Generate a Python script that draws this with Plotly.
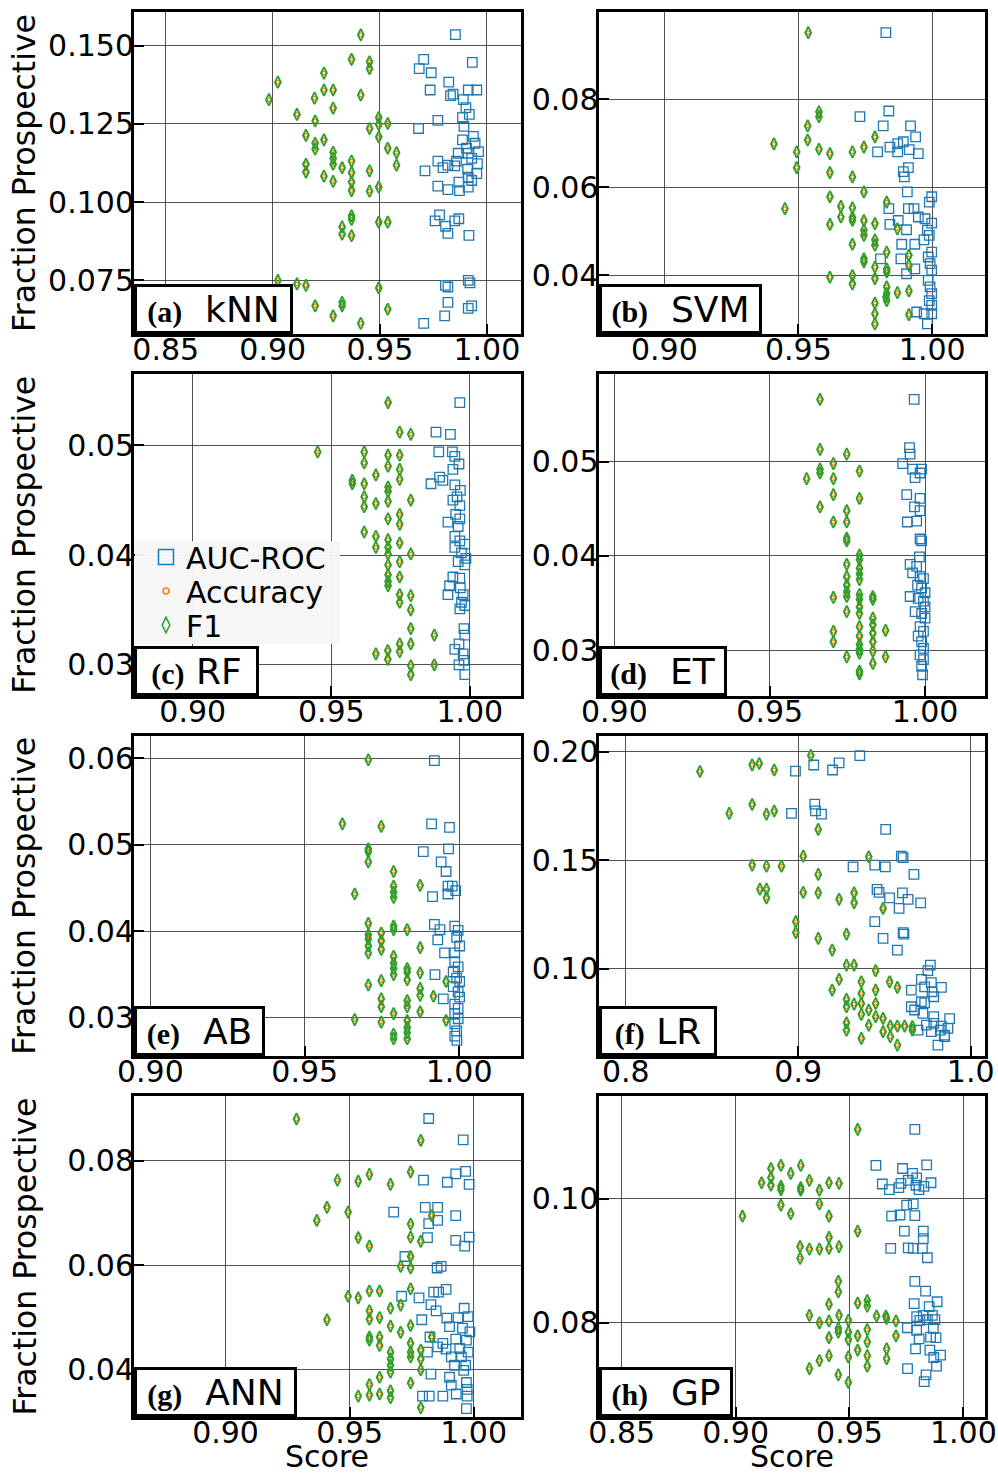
import plotly.graph_objects as go

# ---------------- data (score, fraction prospective) ----------------
# Accuracy markers sit exactly on the F1 markers in every panel, so the
# Accuracy series re-uses the F1 point lists.

KNN_AUC = [(0.9853,0.1535),(0.9932,0.1446),(0.9705,0.1456),(0.9684,0.1426),(0.9740,0.1413),(0.9822,0.1383),
           (0.9735,0.1358),(0.9830,0.1340),(0.9842,0.1345),(0.9913,0.1358),(0.9953,0.1358),(0.9890,0.1327),
           (0.9902,0.1302),(0.9918,0.1280),(0.9681,0.1235),(0.9771,0.1261),(0.9886,0.1270),(0.9893,0.1242),
           (0.9937,0.1210),(0.9945,0.1188),(0.9886,0.1199),(0.9905,0.1172),(0.9913,0.1156),(0.9961,0.1161),
           (0.9866,0.1156),(0.9929,0.1140),(0.9956,0.1123),(0.9858,0.1131),(0.9771,0.1131),(0.9818,0.1118),
           (0.9795,0.1110),(0.9850,0.1116),(0.9910,0.1105),(0.9953,0.1091),(0.9711,0.1100),(0.9913,0.1080),
           (0.9929,0.1069),(0.9869,0.1064),(0.9771,0.1051),(0.9818,0.1040),(0.9872,0.1037),(0.9913,0.1048),
           (0.9779,0.0959),(0.9758,0.0940),(0.9807,0.0923),(0.9818,0.0900),(0.9850,0.0940),(0.9869,0.0947),
           (0.9916,0.0894),(0.9806,0.0734),(0.9818,0.0729),(0.9913,0.0750),(0.9921,0.0742),(0.9818,0.0680),
           (0.9913,0.0661),(0.9929,0.0669),(0.9803,0.0637),(0.9705,0.0613)]
KNN_F1 = [(0.8982,0.1327),(0.9024,0.1383),(0.9113,0.1280),(0.9155,0.1213),(0.9195,0.1332),(0.9198,0.1259),
          (0.9239,0.1412),(0.9239,0.1358),(0.9282,0.1358),(0.9282,0.1300),(0.9198,0.1188),(0.9198,0.1170),
          (0.9239,0.1199),(0.9155,0.1121),(0.9155,0.1096),(0.9239,0.1083),(0.9282,0.1159),(0.9282,0.1140),
          (0.9282,0.1121),(0.9282,0.1066),(0.9324,0.1110),(0.9368,0.1456),(0.9368,0.1131),(0.9368,0.1094),
          (0.9368,0.1064),(0.9368,0.1037),(0.9411,0.1534),(0.9411,0.1342),(0.9452,0.1448),(0.9452,0.1426),
          (0.9452,0.1235),(0.9452,0.1100),(0.9452,0.1035),(0.9495,0.1270),(0.9495,0.1248),(0.9495,0.1208),
          (0.9495,0.1048),(0.9537,0.1251),(0.9537,0.1172),(0.9578,0.1158),(0.9578,0.1118),(0.9368,0.0956),
          (0.9368,0.0945),(0.9324,0.0921),(0.9324,0.0898),(0.9368,0.0893),(0.9495,0.0936),(0.9537,0.0936),
          (0.9024,0.0750),(0.9113,0.0739),(0.9155,0.0734),(0.9198,0.0669),(0.9282,0.0637),(0.9324,0.0680),
          (0.9324,0.0669),(0.9411,0.0613),(0.9495,0.0726),(0.9537,0.0658)]

SVM_AUC = [(0.9827,0.0951),(0.9730,0.0760),(0.9838,0.0773),(0.9817,0.0739),(0.9919,0.0739),(0.9938,0.0714),
           (0.9796,0.0680),(0.9842,0.0691),(0.9871,0.0680),(0.9871,0.0699),(0.9892,0.0703),(0.9914,0.0685),
           (0.9948,0.0676),(0.9892,0.0635),(0.9911,0.0644),(0.9896,0.0623),(0.9907,0.0589),(0.9998,0.0578),
           (0.9989,0.0566),(0.9838,0.0551),(0.9911,0.0551),(0.9932,0.0551),(0.9948,0.0532),(0.9973,0.0528),
           (0.9998,0.0518),(0.9842,0.0515),(0.9873,0.0524),(0.9904,0.0503),(0.9982,0.0502),(0.9989,0.0490),
           (0.9969,0.0480),(0.9886,0.0470),(0.9935,0.0470),(0.9998,0.0452),(0.9992,0.0426),(0.9998,0.0411),
           (0.9807,0.0437),(0.9883,0.0437),(0.9935,0.0414),(0.9904,0.0403),(0.9985,0.0388),(0.9992,0.0373),
           (0.9998,0.0358),(0.9989,0.0342),(0.9998,0.0331),(0.9942,0.0316),(0.9970,0.0312),(0.9998,0.0312),
           (0.9982,0.0289),(0.9985,0.0441)]
SVM_F1 = [(0.9537,0.0951),(0.9577,0.0771),(0.9577,0.0760),(0.9535,0.0739),(0.9535,0.0707),(0.9409,0.0698),
          (0.9494,0.0680),(0.9494,0.0644),(0.9577,0.0686),(0.9618,0.0676),(0.9702,0.0680),(0.9745,0.0691),
          (0.9786,0.0714),(0.9618,0.0633),(0.9702,0.0623),(0.9450,0.0551),(0.9618,0.0578),(0.9659,0.0556),
          (0.9659,0.0532),(0.9618,0.0515),(0.9702,0.0553),(0.9702,0.0531),(0.9702,0.0524),(0.9745,0.0589),
          (0.9745,0.0524),(0.9745,0.0502),(0.9745,0.0490),(0.9786,0.0517),(0.9786,0.0480),(0.9786,0.0468),
          (0.9702,0.0470),(0.9830,0.0566),(0.9830,0.0452),(0.9870,0.0505),(0.9745,0.0437),(0.9745,0.0430),
          (0.9786,0.0418),(0.9830,0.0414),(0.9830,0.0407),(0.9618,0.0395),(0.9702,0.0399),(0.9702,0.0380),
          (0.9786,0.0392),(0.9830,0.0373),(0.9830,0.0358),(0.9830,0.0342),(0.9870,0.0360),(0.9913,0.0445),
          (0.9913,0.0422),(0.9913,0.0364),(0.9913,0.0310),(0.9786,0.0336),(0.9786,0.0312),(0.9786,0.0289),
          (0.9827,0.0350)]

RF_AUC = [(0.9964,0.0539),(0.9878,0.0512),(0.9930,0.0510),(0.9888,0.0494),(0.9937,0.0494),(0.9946,0.0490),
          (0.9961,0.0483),(0.9939,0.0478),(0.9860,0.0465),(0.9891,0.0471),(0.9903,0.0468),(0.9946,0.0464),
          (0.9966,0.0459),(0.9954,0.0453),(0.9939,0.0450),(0.9964,0.0445),(0.9949,0.0437),(0.9964,0.0433),
          (0.9921,0.0430),(0.9958,0.0426),(0.9946,0.0417),(0.9964,0.0413),(0.9982,0.0410),(0.9946,0.0407),
          (0.9970,0.0402),(0.9986,0.0397),(0.9958,0.0394),(0.9982,0.0391),(0.9939,0.0380),(0.9964,0.0379),
          (0.9927,0.0372),(0.9966,0.0370),(0.9976,0.0364),(0.9921,0.0364),(0.9970,0.0357),(0.9964,0.0351),
          (0.9982,0.0354),(0.9979,0.0333),(0.9982,0.0327),(0.9961,0.0319),(0.9946,0.0314),(0.9976,0.0310),
          (0.9979,0.0304),(0.9961,0.0300),(0.9982,0.0291)]
RF_F1 = [(0.9451,0.0494),(0.9705,0.0539),(0.9747,0.0512),(0.9787,0.0510),(0.9619,0.0494),(0.9619,0.0484),
         (0.9661,0.0473),(0.9576,0.0468),(0.9576,0.0465),(0.9619,0.0465),(0.9705,0.0491),(0.9705,0.0481),
         (0.9747,0.0491),(0.9747,0.0478),(0.9747,0.0469),(0.9705,0.0462),(0.9705,0.0458),(0.9619,0.0453),
         (0.9619,0.0444),(0.9661,0.0447),(0.9705,0.0449),(0.9787,0.0450),(0.9705,0.0433),(0.9747,0.0437),
         (0.9747,0.0428),(0.9619,0.0421),(0.9661,0.0417),(0.9705,0.0414),(0.9661,0.0407),(0.9705,0.0407),
         (0.9705,0.0401),(0.9747,0.0411),(0.9747,0.0394),(0.9787,0.0401),(0.9705,0.0391),(0.9705,0.0382),
         (0.9705,0.0376),(0.9705,0.0372),(0.9747,0.0380),(0.9747,0.0364),(0.9747,0.0357),(0.9787,0.0363),
         (0.9787,0.0350),(0.9787,0.0333),(0.9787,0.0319),(0.9747,0.0319),(0.9704,0.0313),(0.9704,0.0305),
         (0.9661,0.0310),(0.9747,0.0312),(0.9787,0.0299),(0.9787,0.0291),(0.9872,0.0327),(0.9872,0.0300)]

ET_AUC = [(0.9965,0.0566),(0.9950,0.0515),(0.9952,0.0508),(0.9928,0.0498),(0.9960,0.0492),(0.9989,0.0492),
          (0.9984,0.0488),(0.9968,0.0483),(0.9941,0.0465),(0.9984,0.0461),(0.9966,0.0452),(0.9984,0.0448),
          (0.9943,0.0436),(0.9973,0.0437),(0.9984,0.0418),(0.9989,0.0416),(0.9982,0.0399),(0.9952,0.0391),
          (0.9973,0.0389),(0.9960,0.0382),(0.9984,0.0378),(0.9995,0.0376),(0.9976,0.0369),(0.9989,0.0366),
          (1.0000,0.0361),(0.9952,0.0357),(0.9978,0.0355),(0.9995,0.0352),(1.0000,0.0346),(0.9989,0.0339),
          (0.9968,0.0341),(1.0000,0.0334),(0.9984,0.0325),(0.9995,0.0320),(0.9978,0.0315),(0.9989,0.0309),
          (0.9995,0.0302),(0.9984,0.0295),(0.9995,0.0290),(0.9989,0.0283),(0.9992,0.0274)]
ET_F1 = [(0.9662,0.0566),(0.9662,0.0513),(0.9662,0.0492),(0.9662,0.0488),(0.9619,0.0482),(0.9705,0.0498),
         (0.9705,0.0482),(0.9748,0.0508),(0.9789,0.0490),(0.9705,0.0465),(0.9789,0.0461),(0.9662,0.0452),
         (0.9705,0.0436),(0.9748,0.0448),(0.9748,0.0436),(0.9748,0.0419),(0.9748,0.0416),(0.9789,0.0401),
         (0.9789,0.0396),(0.9748,0.0391),(0.9789,0.0387),(0.9789,0.0381),(0.9748,0.0378),(0.9789,0.0375),
         (0.9748,0.0369),(0.9748,0.0362),(0.9748,0.0357),(0.9789,0.0359),(0.9789,0.0354),(0.9705,0.0356),
         (0.9832,0.0357),(0.9832,0.0354),(0.9789,0.0346),(0.9789,0.0339),(0.9748,0.0341),(0.9832,0.0334),
         (0.9832,0.0327),(0.9832,0.0318),(0.9832,0.0309),(0.9789,0.0325),(0.9789,0.0315),(0.9789,0.0306),
         (0.9789,0.0301),(0.9705,0.0320),(0.9705,0.0309),(0.9873,0.0321),(0.9748,0.0293),(0.9789,0.0297),
         (0.9832,0.0299),(0.9832,0.0286),(0.9873,0.0293),(0.9789,0.0278),(0.9789,0.0275)]

AB_AUC = [(0.9920,0.0597),(0.9911,0.0524),(0.9969,0.0520),(0.9884,0.0492),(0.9966,0.0495),(0.9942,0.0480),
          (0.9958,0.0469),(0.9914,0.0440),(0.9964,0.0452),(0.9978,0.0452),(0.9989,0.0447),(0.9964,0.0443),
          (0.9920,0.0408),(0.9938,0.0402),(0.9986,0.0406),(0.9997,0.0401),(0.9931,0.0390),(0.9992,0.0393),
          (1.0002,0.0383),(0.9953,0.0375),(0.9986,0.0375),(0.9986,0.0365),(0.9997,0.0359),(0.9981,0.0353),
          (0.9922,0.0350),(0.9992,0.0346),(1.0002,0.0342),(0.9981,0.0336),(0.9997,0.0330),(1.0002,0.0324),
          (0.9949,0.0322),(0.9986,0.0316),(0.9997,0.0311),(0.9986,0.0305),(0.9997,0.0299),(0.9986,0.0293),
          (0.9992,0.0285),(0.9986,0.0279),(0.9993,0.0274)]
AB_F1 = [(0.9706,0.0598),(0.9622,0.0524),(0.9748,0.0521),(0.9706,0.0495),(0.9706,0.0492),(0.9706,0.0480),
         (0.9788,0.0469),(0.9788,0.0452),(0.9788,0.0445),(0.9788,0.0439),(0.9662,0.0443),(0.9874,0.0453),
         (0.9706,0.0409),(0.9706,0.0396),(0.9706,0.0391),(0.9706,0.0383),(0.9706,0.0375),(0.9748,0.0398),
         (0.9748,0.0389),(0.9748,0.0379),(0.9788,0.0406),(0.9788,0.0402),(0.9832,0.0402),(0.9874,0.0381),
         (0.9788,0.0371),(0.9788,0.0363),(0.9788,0.0357),(0.9788,0.0350),(0.9832,0.0357),(0.9832,0.0353),
         (0.9832,0.0344),(0.9706,0.0338),(0.9748,0.0343),(0.9874,0.0352),(0.9874,0.0334),(0.9874,0.0326),
         (0.9917,0.0325),(0.9958,0.0342),(0.9748,0.0322),(0.9748,0.0313),(0.9832,0.0320),(0.9832,0.0313),
         (0.9788,0.0305),(0.9874,0.0307),(0.9662,0.0298),(0.9748,0.0295),(0.9832,0.0297),(0.9958,0.0297),
         (0.9832,0.0289),(0.9832,0.0283),(0.9788,0.0281),(0.9788,0.0276),(0.9832,0.0276)]

LR_AUC = [(0.8984,0.1911),(0.9090,0.1939),(0.9199,0.1916),(0.9237,0.1949),(0.9357,0.1982),(0.8961,0.1716),
          (0.9096,0.1759),(0.9100,0.1728),(0.9135,0.1713),(0.9507,0.1642),(0.9318,0.1470),(0.9444,0.1478),
          (0.9505,0.1470),(0.9598,0.1519),(0.9608,0.1512),(0.9671,0.1435),(0.9457,0.1366),(0.9469,0.1352),
          (0.9530,0.1327),(0.9604,0.1350),(0.9637,0.1320),(0.9710,0.1304),(0.9585,0.1278),(0.9444,0.1217),
          (0.9492,0.1140),(0.9608,0.1167),(0.9613,0.1160),(0.9575,0.1086),(0.9766,0.1017),(0.9752,0.0991),
          (0.9714,0.0951),(0.9772,0.0936),(0.9733,0.0917),(0.9830,0.0914),(0.9656,0.0902),(0.9776,0.0894),
          (0.9786,0.0871),(0.9714,0.0848),(0.9656,0.0825),(0.9733,0.0843),(0.9675,0.0810),(0.9723,0.0794),
          (0.9786,0.0779),(0.9878,0.0770),(0.9743,0.0740),(0.9786,0.0748),(0.9830,0.0736),(0.9695,0.0717),
          (0.9772,0.0710),(0.9824,0.0717),(0.9868,0.0725),(0.9849,0.0694),(0.9810,0.0648),(0.9849,0.0687)]
LR_F1 = [(0.8430,0.1909),(0.8733,0.1940),(0.8774,0.1946),(0.8861,0.1916),(0.9073,0.1983),(0.8600,0.1716),
         (0.8733,0.1757),(0.8816,0.1713),(0.8861,0.1727),(0.9116,0.1642),(0.8733,0.1478),(0.8816,0.1473),
         (0.8903,0.1473),(0.9029,0.1519),(0.9116,0.1435),(0.8778,0.1367),(0.8816,0.1367),(0.8816,0.1327),
         (0.9029,0.1352),(0.9116,0.1350),(0.9237,0.1320),(0.9324,0.1350),(0.9324,0.1304),(0.9409,0.1516),
         (0.9492,0.1278),(0.8986,0.1217),(0.8986,0.1167),(0.9116,0.1140),(0.9197,0.1086),(0.9280,0.1160),
         (0.9280,0.1017),(0.9324,0.1017),(0.9237,0.0951),(0.9197,0.0902),(0.9366,0.0940),(0.9366,0.0886),
         (0.9449,0.0991),(0.9449,0.0902),(0.9530,0.0940),(0.9575,0.0914),(0.9280,0.0859),(0.9280,0.0825),
         (0.9324,0.0837),(0.9366,0.0840),(0.9409,0.0810),(0.9449,0.0840),(0.9366,0.0790),(0.9449,0.0779),
         (0.9492,0.0771),(0.9280,0.0751),(0.9280,0.0717),(0.9409,0.0740),(0.9492,0.0710),(0.9534,0.0736),
         (0.9575,0.0736),(0.9617,0.0736),(0.9662,0.0733),(0.9662,0.0717),(0.9534,0.0687),(0.9366,0.0679),
         (0.9575,0.0648)]

ANN_AUC = [(0.9819,0.0881),(0.9958,0.0840),(0.9798,0.0763),(0.9894,0.0759),(0.9928,0.0775),(0.9968,0.0780),
           (0.9982,0.0755),(0.9678,0.0702),(0.9805,0.0711),(0.9855,0.0711),(0.9819,0.0680),(0.9855,0.0686),
           (0.9928,0.0695),(0.9814,0.0653),(0.9928,0.0648),(0.9982,0.0654),(0.9964,0.0637),(0.9723,0.0617),
           (0.9853,0.0595),(0.9869,0.0598),(0.9839,0.0549),(0.9859,0.0549),(0.9889,0.0554),(0.9710,0.0541),
           (0.9780,0.0538),(0.9828,0.0525),(0.9849,0.0513),(0.9962,0.0518),(0.9791,0.0496),(0.9892,0.0499),
           (0.9937,0.0500),(0.9978,0.0502),(0.9903,0.0483),(0.9955,0.0480),(0.9985,0.0473),(0.9824,0.0463),
           (0.9876,0.0451),(0.9928,0.0459),(0.9971,0.0457),(0.9855,0.0444),(0.9889,0.0440),(0.9944,0.0441),
           (0.9978,0.0434),(0.9814,0.0434),(0.9910,0.0425),(0.9951,0.0425),(0.9923,0.0409),(0.9968,0.0409),
           (0.9960,0.0399),(0.9828,0.0392),(0.9903,0.0386),(0.9910,0.0371),(0.9971,0.0376),(0.9974,0.0363),
           (0.9794,0.0350),(0.9821,0.0350),(0.9876,0.0350),(0.9930,0.0354),(0.9974,0.0350),(0.9971,0.0326)]
ANN_F1 = [(0.9286,0.0880),(0.9787,0.0839),(0.9451,0.0763),(0.9535,0.0761),(0.9580,0.0774),(0.9665,0.0755),
          (0.9746,0.0779),(0.9409,0.0711),(0.9368,0.0686),(0.9494,0.0702),(0.9535,0.0653),(0.9580,0.0637),
          (0.9746,0.0679),(0.9746,0.0654),(0.9787,0.0646),(0.9831,0.0695),(0.9746,0.0617),(0.9706,0.0598),
          (0.9746,0.0595),(0.9746,0.0555),(0.9494,0.0541),(0.9535,0.0538),(0.9580,0.0551),(0.9621,0.0551),
          (0.9409,0.0496),(0.9580,0.0513),(0.9580,0.0497),(0.9621,0.0500),(0.9665,0.0518),(0.9706,0.0524),
          (0.9665,0.0484),(0.9746,0.0485),(0.9706,0.0472),(0.9580,0.0463),(0.9580,0.0457),(0.9621,0.0463),
          (0.9621,0.0447),(0.9746,0.0451),(0.9831,0.0463),(0.9665,0.0434),(0.9665,0.0421),(0.9665,0.0409),
          (0.9665,0.0396),(0.9746,0.0434),(0.9746,0.0425),(0.9787,0.0438),(0.9787,0.0421),(0.9787,0.0400),
          (0.9621,0.0386),(0.9580,0.0372),(0.9746,0.0375),(0.9535,0.0350),(0.9580,0.0352),(0.9621,0.0354),
          (0.9665,0.0360),(0.9665,0.0347),(0.9787,0.0328)]

GP_AUC = [(0.9787,0.1112),(0.9616,0.1054),(0.9733,0.1049),(0.9839,0.1055),(0.9777,0.1041),(0.9795,0.1034),
          (0.9644,0.1024),(0.9675,0.1015),(0.9717,0.1018),(0.9726,0.1025),(0.9758,0.1030),(0.9792,0.1022),
          (0.9805,0.1015),(0.9827,0.1020),(0.9858,0.1026),(0.9751,0.0990),(0.9780,0.0992),(0.9685,0.0972),
          (0.9722,0.0974),(0.9787,0.0973),(0.9741,0.0948),(0.9824,0.0948),(0.9824,0.0936),(0.9681,0.0920),
          (0.9758,0.0921),(0.9780,0.0920),(0.9820,0.0920),(0.9842,0.0905),(0.9787,0.0867),(0.9834,0.0851),
          (0.9784,0.0831),(0.9885,0.0834),(0.9850,0.0826),(0.9795,0.0810),(0.9824,0.0812),(0.9864,0.0812),
          (0.9809,0.0804),(0.9842,0.0805),(0.9875,0.0805),(0.9754,0.0792),(0.9795,0.0788),(0.9868,0.0791),
          (0.9856,0.0777),(0.9880,0.0776),(0.9806,0.0774),(0.9853,0.0756),(0.9900,0.0748),(0.9870,0.0744),
          (0.9790,0.0758),(0.9882,0.0730),(0.9755,0.0726),(0.9836,0.0716),(0.9828,0.0705)]
GP_F1 = [(0.9536,0.1112),(0.9030,0.0972),(0.9114,0.1026),(0.9155,0.1049),(0.9155,0.1034),(0.9155,0.1022),
         (0.9199,0.1054),(0.9199,0.1020),(0.9199,0.1015),(0.9242,0.1041),(0.9286,0.1054),(0.9286,0.1018),
         (0.9286,0.1014),(0.9324,0.1030),(0.9368,0.1014),(0.9410,0.1026),(0.9454,0.1025),(0.9199,0.0990),
         (0.9242,0.0976),(0.9368,0.0992),(0.9410,0.0972),(0.9536,0.0948),(0.9410,0.0938),(0.9283,0.0923),
         (0.9283,0.0904),(0.9324,0.0919),(0.9368,0.0919),(0.9410,0.0920),(0.9454,0.0923),(0.9451,0.0867),
         (0.9451,0.0850),(0.9410,0.0830),(0.9324,0.0812),(0.9368,0.0800),(0.9410,0.0803),(0.9454,0.0812),
         (0.9495,0.0804),(0.9536,0.0832),(0.9578,0.0836),(0.9578,0.0827),(0.9619,0.0811),(0.9660,0.0811),
         (0.9704,0.0803),(0.9663,0.0807),(0.9410,0.0776),(0.9451,0.0791),(0.9451,0.0785),(0.9495,0.0785),
         (0.9495,0.0773),(0.9536,0.0779),(0.9578,0.0789),(0.9578,0.0769),(0.9704,0.0779),(0.9536,0.0756),
         (0.9578,0.0747),(0.9663,0.0758),(0.9663,0.0742),(0.9410,0.0747),(0.9495,0.0745),(0.9368,0.0739),
         (0.9324,0.0726),(0.9578,0.0730),(0.9451,0.0716),(0.9495,0.0704)]

PANEL_TAGS = ["(a)", "(b)", "(c)", "(d)", "(e)", "(f)", "(g)", "(h)"]
MODEL_NAMES = ["kNN", "SVM", "RF", "ET", "AB", "LR", "ANN", "GP"]
AUC_SETS = [KNN_AUC, SVM_AUC, RF_AUC, ET_AUC, AB_AUC, LR_AUC, ANN_AUC, GP_AUC]
F1_SETS = [KNN_F1, SVM_F1, RF_F1, ET_F1, AB_F1, LR_F1, ANN_F1, GP_F1]
ACC_SETS = F1_SETS  # Accuracy markers coincide with the F1 markers

X_TICKS = [[0.85, 0.90, 0.95, 1.00], [0.90, 0.95, 1.00], [0.90, 0.95, 1.00], [0.90, 0.95, 1.00],
           [0.90, 0.95, 1.00], [0.8, 0.9, 1.0], [0.90, 0.95, 1.00], [0.85, 0.90, 0.95, 1.00]]
Y_TICKS = [[0.075, 0.100, 0.125, 0.150], [0.04, 0.06, 0.08], [0.03, 0.04, 0.05], [0.03, 0.04, 0.05],
           [0.03, 0.04, 0.05, 0.06], [0.10, 0.15, 0.20], [0.04, 0.06, 0.08], [0.08, 0.10]]
LEGEND_NAMES = ["AUC-ROC", "Accuracy", "F1"]

# ---------------- layout geometry ----------------
W, H = 998, 1476
X_RANGES = [[0.8352, 1.0157], [0.8754, 1.0197], [0.8788, 1.0183], [0.8949, 1.0193],
            [0.8947, 1.0199], [0.7842, 1.0083], [0.8631, 1.0189], [0.8398, 1.0095]]
Y_RANGES = [[0.0579, 0.1607], [0.0266, 0.0998], [0.0272, 0.0565], [0.0252, 0.0593],
            [0.0256, 0.0626], [0.0598, 0.2075], [0.0310, 0.0924], [0.0648, 0.1166]]
X_FMT = [".2f", ".2f", ".2f", ".2f", ".2f", ".1f", ".2f", ".2f"]
Y_FMT = [".3f", ".2f", ".2f", ".2f", ".2f", ".2f", ".2f", ".2f"]
COLS = [(134, 520.5), (598.5, 985)]
ROWS = [(12, 334), (374, 695.5), (735.5, 1056), (1096, 1417)]
BOX_W = [157, 161, 123, 126, 129, 116, 161, 132]

BLUE, ORANGE, GREEN = "#1f77b4", "#ff7f0e", "#2ca02c"
FONT = "DejaVu Sans"

fig = go.Figure()
layout = dict(width=W, height=H, margin=dict(l=0, r=0, t=0, b=0, autoexpand=False),
              paper_bgcolor="white", plot_bgcolor="white",
              font=dict(family=FONT, color="black"), showlegend=True)
annotations = []

for i in range(8):
    r, c = divmod(i, 2)
    x0, x1 = COLS[c]
    y0, y1 = ROWS[r]
    xa = "xaxis" if i == 0 else f"xaxis{i+1}"
    ya = "yaxis" if i == 0 else f"yaxis{i+1}"
    xr = "x" if i == 0 else f"x{i+1}"
    yr = "y" if i == 0 else f"y{i+1}"
    common = dict(showgrid=True, gridcolor="rgba(0,0,0,0.68)", gridwidth=1, zeroline=False,
                  showline=True, linecolor="black", linewidth=3, mirror=True, automargin=False,
                  ticks="inside", ticklen=10, tickwidth=2, tickcolor="black",
                  tickfont=dict(family=FONT, size=30, color="black"))
    layout[xa] = dict(domain=[x0 / W, x1 / W], range=X_RANGES[i], tickvals=X_TICKS[i],
                      tickformat=X_FMT[i], anchor=yr, ticklabelstandoff=-13, **common)
    layout[ya] = dict(domain=[1 - y1 / H, 1 - y0 / H], range=Y_RANGES[i], tickvals=Y_TICKS[i],
                      tickformat=Y_FMT[i], anchor=xr, ticklabelstandoff=-9, **common)

    auc, acc, f1 = AUC_SETS[i], ACC_SETS[i], F1_SETS[i]
    fig.add_trace(go.Scatter(x=[p[0] for p in auc], y=[p[1] for p in auc], mode="markers",
                             xaxis=xr, yaxis=yr, showlegend=False, name="AUC-ROC",
                             marker=dict(symbol="square-open", size=9.5, color=BLUE,
                                         line=dict(width=1.3, color=BLUE))))
    fig.add_trace(go.Scatter(x=[p[0] for p in acc], y=[p[1] for p in acc], mode="markers",
                             xaxis=xr, yaxis=yr, showlegend=False, name="Accuracy",
                             marker=dict(symbol="circle-open", size=3.6, color=ORANGE,
                                         line=dict(width=1.3, color=ORANGE))))
    fig.add_trace(go.Scatter(x=[p[0] for p in f1], y=[p[1] for p in f1], mode="markers",
                             xaxis=xr, yaxis=yr, showlegend=False, name="F1",
                             marker=dict(symbol="diamond-tall-open", size=8.5, color=GREEN,
                                         line=dict(width=1.8, color=GREEN))))

    tag = PANEL_TAGS[i]
    sep = "\u00a0" if MODEL_NAMES[i] in ("RF", "LR") else "\u00a0\u00a0"
    text = ("<b><span style='font-family:Liberation Serif;font-size:30px'>" + tag +
            "</span></b>" + sep + MODEL_NAMES[i])
    annotations.append(dict(xref=f"{xr} domain", yref=f"{yr} domain", x=0, y=0,
                            xanchor="left", yanchor="bottom", text=text, showarrow=False,
                            font=dict(family=FONT, size=36, color="black"),
                            bgcolor="white", bordercolor="black", borderwidth=3, borderpad=0,
                            width=BOX_W[i] - 4, height=44, align="center", valign="middle"))

# legend background (panel c) and three single-entry legends stacked tightly
shapes = [dict(type="rect", xref="paper", yref="paper", layer="above",
               x0=135 / W, x1=340 / W, y0=1 - 644 / H, y1=1 - 541 / H,
               fillcolor="rgba(246,246,246,0.95)", line=dict(width=0))]
legend_specs = [("square-open", 15, BLUE, "legend", 557),
                ("circle-open", 6, ORANGE, "legend2", 591),
                ("diamond-tall-open", 11, GREEN, "legend3", 625)]
for name, (sym, size, col, lg, yc) in zip(LEGEND_NAMES, legend_specs):
    fig.add_trace(go.Scatter(x=[None], y=[None], mode="markers", name=name, xaxis="x3", yaxis="y3",
                             legend=lg,
                             marker=dict(symbol=sym, size=size, color=col, line=dict(width=1.5, color=col))))
    layout[lg] = dict(x=146 / W, y=1 - yc / H, xanchor="left", yanchor="middle",
                      bgcolor="rgba(0,0,0,0)", borderwidth=0,
                      font=dict(family=FONT, size=30, color="black"), itemwidth=30)

for r in range(4):
    yc = (ROWS[r][0] + ROWS[r][1]) / 2
    annotations.append(dict(xref="paper", yref="paper", x=24 / W, y=1 - yc / H, text="Fraction Prospective",
                            textangle=-90, showarrow=False, xanchor="center", yanchor="middle",
                            font=dict(family=FONT, size=31.5, color="black")))
for c in range(2):
    xc = (COLS[c][0] + COLS[c][1]) / 2
    annotations.append(dict(xref="paper", yref="paper", x=xc / W, y=0, yshift=0, text="Score",
                            showarrow=False, xanchor="center", yanchor="bottom",
                            font=dict(family=FONT, size=30, color="black")))

layout["annotations"] = annotations
layout["shapes"] = shapes
fig.update_layout(**layout)
fig.write_html("out.html")
